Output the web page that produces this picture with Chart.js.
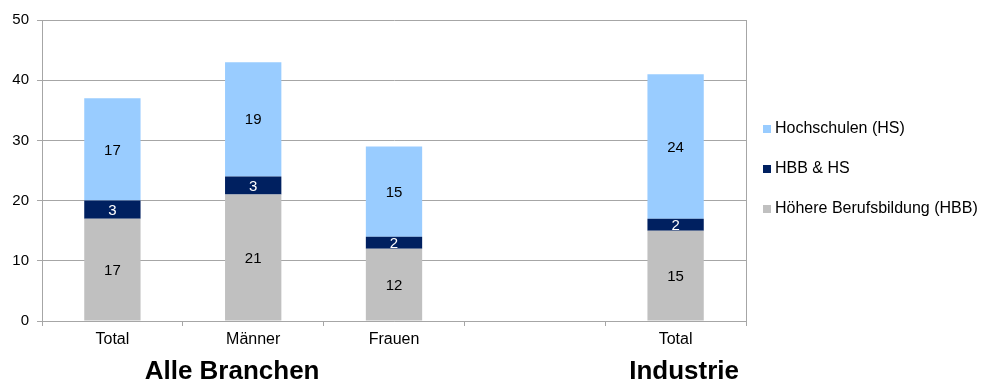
<!DOCTYPE html>
<html>
<head>
<meta charset="utf-8">
<script src="https://cdn.jsdelivr.net/npm/chart.js@4"></script>
<style>
  html, body { margin: 0; padding: 0; background: #fff; }
  #wrap { width: 981px; height: 383px; }
</style>
</head>
<body>
<div id="wrap"><canvas id="chart" width="981" height="383"></canvas></div>
<script>
// data
const categories = ['Total', 'Männer', 'Frauen', '', 'Total'];
const hbb = [17, 21, 12, null, 15];
const hbbHs = [3, 3, 2, null, 2];
const hs = [17, 19, 15, null, 24];
const seriesNames = ['Höhere Berufsbildung (HBB)', 'HBB & HS', 'Hochschulen (HS)'];
const groupLabels = ['Alle Branchen', 'Industrie'];
const groupAt = [0.85, 4.06]; // in category steps from the first bar
const yMin = 0, yMax = 50, yStep = 10;

const FONT = '"Liberation Sans", Arial, sans-serif';
const GRID = '#a6a6a6';

// labels on the bars, right border, legend, group captions
const extras = {
  id: 'extras',
  afterDatasetsDraw(chart) {
    const ctx = chart.ctx;
    ctx.save();
    ctx.font = '15px ' + FONT;
    ctx.textAlign = 'center';
    ctx.textBaseline = 'middle';
    chart.data.datasets.forEach((ds, i) => {
      chart.getDatasetMeta(i).data.forEach((bar, j) => {
        const v = ds.data[j];
        if (v == null) return;
        const p = bar.getProps(['x', 'y', 'base'], true);
        ctx.fillStyle = ds.labelColor;
        ctx.fillText(String(v), p.x, (p.y + p.base) / 2 + 1);
      });
    });
    ctx.restore();
  },
  afterDraw(chart) {
    const ctx = chart.ctx;
    const a = chart.chartArea;
    ctx.save();
    // right frame line
    ctx.strokeStyle = GRID;
    ctx.lineWidth = 1;
    ctx.beginPath();
    ctx.moveTo(Math.round(a.right) + 0.5, a.top);
    ctx.lineTo(Math.round(a.right) + 0.5, a.bottom);
    ctx.stroke();

    // legend, top item = last dataset
    ctx.font = '16px ' + FONT;
    ctx.textAlign = 'left';
    ctx.textBaseline = 'middle';
    const ds = chart.data.datasets.slice().reverse();
    const rowH = 40;
    const y0 = (a.top + a.bottom) / 2 - rowH * (ds.length - 1) / 2 - 2;
    ds.forEach((d, k) => {
      const y = y0 + k * rowH;
      ctx.fillStyle = d.backgroundColor;
      ctx.fillRect(a.right + 17, Math.round(y - 4), 8, 8);
      ctx.fillStyle = '#000';
      ctx.fillText(d.label, a.right + 29, y);
    });

    // group captions
    const xs = chart.scales.x;
    const step = xs.getPixelForTick(1) - xs.getPixelForTick(0);
    ctx.font = 'bold 26px ' + FONT;
    ctx.textAlign = 'center';
    ctx.textBaseline = 'alphabetic';
    groupLabels.forEach((t, k) => {
      ctx.fillText(t, xs.getPixelForTick(0) + groupAt[k] * step, 379);
    });
    ctx.restore();
  }
};

new Chart(document.getElementById('chart'), {
  type: 'bar',
  data: {
    labels: categories,
    datasets: [
      { label: seriesNames[0], data: hbb, backgroundColor: '#c0c0c0', labelColor: '#000' },
      { label: seriesNames[1], data: hbbHs, backgroundColor: '#002060', labelColor: '#fff' },
      { label: seriesNames[2], data: hs, backgroundColor: '#99ccff', labelColor: '#000' }
    ]
  },
  options: {
    responsive: false,
    animation: false,
    devicePixelRatio: 1,
    layout: { padding: { top: 20, right: 235, bottom: 0, left: 0 } },
    datasets: { bar: { barPercentage: 0.8, categoryPercentage: 0.5 } },
    plugins: {
      legend: { display: false },
      tooltip: { enabled: false }
    },
    scales: {
      x: {
        stacked: true,
        grid: { drawOnChartArea: false, tickLength: 5, color: GRID, offset: true },
        border: { color: GRID },
        ticks: { color: '#000', font: { family: FONT, size: 16 }, padding: 4 },
        afterFit(s) { s.height = 62; }
      },
      y: {
        stacked: true,
        min: yMin,
        max: yMax,
        grid: { color: GRID, tickLength: 5 },
        border: { color: GRID },
        ticks: { stepSize: yStep, color: '#000', font: { family: FONT, size: 15 }, padding: 8 },
        afterFit(s) { s.width = 42; }
      }
    }
  },
  plugins: [extras]
});
</script>
</body>
</html>
